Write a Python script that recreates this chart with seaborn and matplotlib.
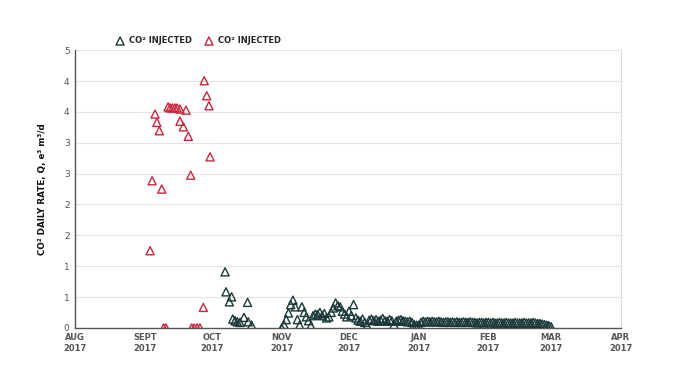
import numpy as np
import pandas as pd
import matplotlib
matplotlib.use('Agg')
import matplotlib.pyplot as plt
import seaborn as sns

sns.set_style('white')
plt.rcParams['font.family'] = ['DejaVu Sans']

# days counted from 1 Aug 2017
start = pd.Timestamp('2017-08-01')

red_days = [33.4, 34.3, 35.6, 36.4, 37.5, 38.6, 39.4, 40.5, 41.4, 42.3, 43.3, 44.4,
            45.4, 46.7, 46.7, 48.2, 49.4, 50.4, 51.5, 51.9, 53.0, 54.3, 55.6, 57.1,
            57.5, 58.6, 59.6, 60.1]
red_rate = [1.39, 2.65, 3.85, 3.70, 3.55, 2.50, 0.0, 0.0, 3.98, 3.96, 3.96, 3.96,
            3.96, 3.94, 3.72, 3.62, 3.92, 3.45, 2.75, 0.0, 0.0, 0.0, 0.0, 0.37,
            4.45, 4.18, 4.00, 3.08]

# october points of the second series
dark_oct_days = [66.8, 67.2, 68.7, 69.7, 70.2, 71.2, 72.2, 73.4, 75.2, 76.8, 77.1, 78.6]
dark_oct_rate = [1.01, 0.65, 0.47, 0.56, 0.16, 0.13, 0.11, 0.10, 0.19, 0.46, 0.11, 0.05]

# daily values from 1 Nov 2017 to 1 Mar 2018
dark_daily_rate = [
    # nov
    0.00, 0.06, 0.15, 0.27, 0.42, 0.50, 0.38, 0.15, 0.05, 0.38, 0.28, 0.20, 0.13, 0.04, 0.22,
    0.25, 0.24, 0.28, 0.22, 0.26, 0.18, 0.20, 0.28, 0.36, 0.45, 0.40, 0.38, 0.30, 0.25, 0.20,
    # dec
    0.30, 0.22, 0.42, 0.18, 0.14, 0.12, 0.16, 0.10, 0.04, 0.14, 0.16, 0.13, 0.15, 0.12, 0.14,
    0.17, 0.13, 0.12, 0.15, 0.13, 0.06, 0.12, 0.14, 0.15, 0.13, 0.12, 0.11, 0.12, 0.10, 0.06,
    0.05,
    # jan
    0.05, 0.10, 0.12, 0.11, 0.12, 0.11, 0.12, 0.11, 0.11, 0.12, 0.11, 0.10, 0.11, 0.11, 0.10,
    0.11, 0.10, 0.11, 0.10, 0.10, 0.11, 0.10, 0.10, 0.11, 0.10, 0.10, 0.09, 0.10, 0.10, 0.09,
    0.10,
    # feb
    0.10, 0.09, 0.10, 0.09, 0.09, 0.10, 0.09, 0.09, 0.10, 0.09, 0.09, 0.09, 0.10, 0.09, 0.09,
    0.09, 0.10, 0.09, 0.09, 0.09, 0.10, 0.09, 0.08, 0.08, 0.07, 0.06, 0.05, 0.04,
    # mar
    0.02,
]

month_ticks = pd.date_range('2017-08-01', '2018-04-01', freq='MS')
month_labels = ['AUG\n2017', 'SEPT\n2017', 'OCT\n2017', 'NOV\n2017', 'DEC\n2017',
                'JAN\n2017', 'FEB\n2017', 'MAR\n2017', 'APR\n2017']
legend_label = 'CO² INJECTED'

red_c = '#c8283c'
dark_c = '#1b3838'

red = pd.DataFrame({'date': start + pd.to_timedelta(red_days, unit='D'), 'rate': red_rate})
dark_oct = pd.DataFrame({'date': start + pd.to_timedelta(dark_oct_days, unit='D'), 'rate': dark_oct_rate})
dark_daily = pd.DataFrame({'date': pd.date_range('2017-11-01', periods=len(dark_daily_rate), freq='D'),
                           'rate': dark_daily_rate})
dark = pd.concat([dark_oct, dark_daily], ignore_index=True)

fig, ax = plt.subplots(figsize=(6.89, 3.8), dpi=100)
fig.subplots_adjust(left=0.109, right=0.901, bottom=0.137, top=0.868)

sns.scatterplot(data=dark, x='date', y='rate', marker='^', s=34, color=dark_c,
                facecolor='none', edgecolor=dark_c, linewidth=1.0, ax=ax, label=legend_label, zorder=3)
sns.scatterplot(data=red, x='date', y='rate', marker='^', s=34, color=red_c,
                facecolor='none', edgecolor=red_c, linewidth=1.0, ax=ax, label=legend_label, zorder=3)

ax.set_xlim(month_ticks[0], month_ticks[-1])
ax.set_ylim(0, 5)
ax.set_xticks(month_ticks)
ax.set_xticklabels(month_labels, fontsize=6, fontweight='bold', color='#555555')
yt = np.linspace(0, 5, 10)
ax.set_yticks(yt)
ax.set_yticklabels([f'{v:.0f}' for v in yt], fontsize=6.5, color='#555555')
ax.tick_params(length=0, pad=4)

ax.set_xlabel('')
ax.set_ylabel('CO² DAILY RATE, Q, e³ m³/d', fontsize=6.3, fontweight='bold', color='#111111', labelpad=12)

ax.yaxis.grid(True, color='#e4e4e4', lw=0.8)
ax.set_axisbelow(True)
for side in ['left', 'bottom']:
    ax.spines[side].set_color('#555555')
    ax.spines[side].set_linewidth(1.0)
ax.spines['right'].set_color('#dddddd')
ax.spines['right'].set_linewidth(0.8)
ax.spines['top'].set_visible(False)

ax.legend(loc='lower left', bbox_to_anchor=(0.058, 1.0), ncol=2, frameon=False,
          prop={'weight': 'bold', 'size': 6}, handletextpad=0.1, columnspacing=1.0,
          borderaxespad=0.2, markerscale=1.0)

fig.savefig('out.png', dpi=100)
